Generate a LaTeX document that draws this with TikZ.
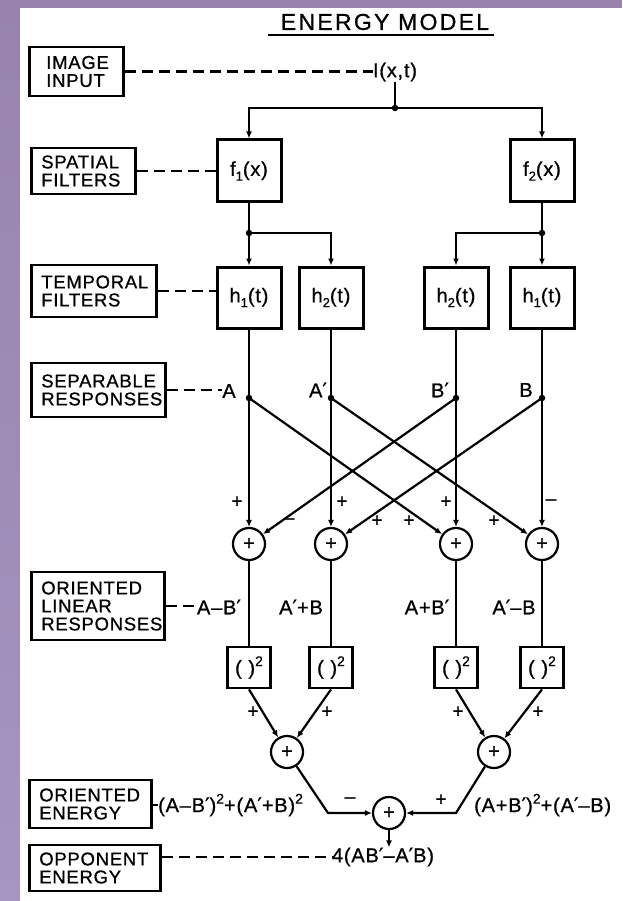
\documentclass[tikz,border=0pt]{standalone}
\usepackage{fontspec}
\setmainfont{Liberation Sans}[LetterSpace=4,FakeBold=0.8]
\newfontfamily\titlefont{Liberation Sans}[LetterSpace=10,FakeBold=0.8]
\newfontfamily\dvs{DejaVu Sans}[FakeBold=0.8]
\usetikzlibrary{arrows.meta}
\definecolor{purpA}{HTML}{9783AE}
\definecolor{purpB}{HTML}{C3B9D8}
\definecolor{purpC}{HTML}{A595C0}
\newcommand{\prm}{{\dvs ′}}
\newcommand{\sqr}{\raisebox{0.8ex}{\fontsize{14}{14}\selectfont 2}}
\newcommand{\lowsub}[1]{\raisebox{-0.45ex}{\fontsize{13}{13}\selectfont #1}}
\begin{document}
\begin{tikzpicture}[x=1pt,y=-1pt,
  lbox/.style={draw, line width=2.6pt, align=left, inner xsep=10pt, inner ysep=0pt, anchor=west,
               font=\fontsize{18.5}{18}\selectfont},
  fbox/.style={draw, line width=3pt, minimum width=64pt, minimum height=62pt, inner sep=0pt,
               font=\fontsize{20}{20}\selectfont},
  qbox/.style={draw, line width=2.8pt, minimum width=43pt, minimum height=41pt, inner sep=0pt,
               font=\fontsize{20}{20}\selectfont},
  adder/.style={circle, draw, line width=2.2pt, minimum size=32pt, inner sep=0pt,
               font=\fontsize{20}{20}\selectfont},
  conn/.style={line width=2.2pt},
  arr/.style={conn, -{Latex[length=7pt,width=6pt]}},
  dashc/.style={line width=2.2pt, dash pattern=on 11pt off 6pt},
  jdot/.style={circle, fill, inner sep=0pt, minimum size=6.5pt},
  lbl/.style={inner sep=0pt, font=\fontsize{20}{20}\selectfont},
  sgn/.style={inner sep=0pt, font=\fontsize{19}{19}\selectfont},
]
\useasboundingbox (0,0) rectangle (622,901);
% background
\fill[purpA] (0,0) rectangle (622,901);
\shade[top color=purpA, middle color=purpB, bottom color=purpC] (0,0) rectangle (20,901);
\fill[white] (20,8) rectangle (622,901);

% title
\node[inner sep=0pt, font=\titlefont\fontsize{23}{23}\selectfont] (title) at (385,22) {ENERGY MODEL};
\draw[line width=2.2pt] (268,35) -- (494,35);

% left label boxes
\node[lbox, inner xsep=17pt, minimum width=94pt, text width=60pt, minimum height=49pt] (bimg) at (28,71.5) {IMAGE\\INPUT};
\node[lbox, minimum width=104pt, text width=84pt, minimum height=46pt] (bsp) at (30,171) {SPATIAL\\FILTERS};
\node[lbox, minimum width=125pt, text width=105pt, minimum height=52pt] (btmp) at (30,291) {TEMPORAL\\FILTERS};
\node[lbox, minimum width=134pt, text width=114pt, minimum height=54pt] (bsep) at (30,390) {SEPARABLE\\RESPONSES};
\node[lbox, minimum width=133pt, text width=113pt, minimum height=68pt] (bol) at (30,606) {ORIENTED\\LINEAR\\RESPONSES};
\node[lbox, minimum width=122pt, text width=102pt, minimum height=48pt] (boe) at (28,804) {ORIENTED\\ENERGY};
\node[lbox, minimum width=131pt, text width=111pt, minimum height=46pt] (bop) at (28,868) {OPPONENT\\ENERGY};

% input
\node[lbl] (Ilab) at (395,72) {I(x,t)};
\coordinate (Ij) at (395,108);

% spatial filters
\node[fbox] (f1) at (249,171) {f\lowsub{1}(x)};
\node[fbox] (f2) at (542,171) {f\lowsub{2}(x)};

% temporal filters
\node[fbox, minimum height=61pt] (h1L) at (249,297.5) {h\lowsub{1}(t)};
\node[fbox, minimum height=61pt] (h2L) at (331,297.5) {h\lowsub{2}(t)};
\node[fbox, minimum height=61pt] (h2R) at (456,297.5) {h\lowsub{2}(t)};
\node[fbox, minimum height=61pt] (h1R) at (542,297.5) {h\lowsub{1}(t)};
\coordinate (j1) at (249,233);
\coordinate (j2) at (542,233);

% separable responses
\coordinate (dA) at (249,398);
\coordinate (dAp) at (331,398);
\coordinate (dBp) at (456,398);
\coordinate (dB) at (542,398);
\node[lbl] (lA) at (229,391) {A};
\node[lbl] (lAp) at (318,390) {A\prm};
\node[lbl] (lBp) at (440,390) {B\prm};
\node[lbl] (lB) at (526,390) {B};

% adders
\node[adder] (s1) at (249,544) {+};
\node[adder] (s2) at (331,544) {+};
\node[adder] (s3) at (456,544) {+};
\node[adder] (s4) at (542,544) {+};

% oriented linear responses
\node[lbl] (olA) at (219,607) {A–B\prm};
\node[lbl] (olB) at (301,607) {A\prm+B};
\node[lbl] (olC) at (427,607) {A+B\prm};
\node[lbl] (olD) at (514,607) {A\prm–B};

% squaring
\node[qbox] (q1) at (249,667.5) {(\,\,)\sqr};
\node[qbox] (q2) at (331,667.5) {(\,\,)\sqr};
\node[qbox] (q3) at (456,667.5) {(\,\,)\sqr};
\node[qbox] (q4) at (542,667.5) {(\,\,)\sqr};

% energy sums
\node[adder] (t1) at (287,752) {+};
\node[adder] (t2) at (494,752) {+};
\node[adder] (fin) at (389,813) {+};
\coordinate (b1) at (328,813);
\coordinate (b2) at (456,813);

\node[lbl, anchor=west] (oeL) at (158,805) {(A–B\prm)\sqr+(A\prm+B)\sqr};
\node[lbl, anchor=west] (oeR) at (474,805) {(A+B\prm)\sqr+(A\prm–B)};
\node[lbl] (opp) at (383,857) {4(AB\prm–A\prm B)};

% dashed leaders
\draw[dashc] (bimg.east) -- (bimg.east -| Ilab.west);
\draw[dashc] (bsp.east) -- (bsp.east -| f1.west);
\draw[dashc] (btmp.east) -- (btmp.east -| h1L.west);
\draw[dashc] (bsep.east) -- (bsep.east -| lA.west);
\draw[dashc] (bol.east) -- (bol.east -| olA.west);
\draw[conn] (boe.east |- oeL.west) -- (oeL.west);
\draw[dashc] (bop.east |- opp.west) -- (opp.west);

% connectors
\draw[conn] (Ilab.south) -- (Ij);
\draw[arr] (Ij) -| (f1.north);
\draw[arr] (Ij) -| (f2.north);
\draw[conn] (f1.south) -- (j1);
\draw[arr] (j1) -- (h1L.north);
\draw[arr] (j1) -| (h2L.north);
\draw[conn] (f2.south) -- (j2);
\draw[arr] (j2) -- (h1R.north);
\draw[arr] (j2) -| (h2R.north);

\draw[arr] (h1L.south) -- (s1.north);
\draw[arr] (h2L.south) -- (s2.north);
\draw[arr] (h2R.south) -- (s3.north);
\draw[arr] (h1R.south) -- (s4.north);
\draw[arr] (dA) -- (s3);
\draw[arr] (dAp) -- (s4);
\draw[arr] (dBp) -- (s1);
\draw[arr] (dB) -- (s2);

\draw[conn] (s1) -- (q1);
\draw[conn] (s2) -- (q2);
\draw[conn] (s3) -- (q3);
\draw[conn] (s4) -- (q4);

\draw[arr] (q1.south) -- (t1);
\draw[arr] (q2.south) -- (t1);
\draw[arr] (q3.south) -- (t2);
\draw[arr] (q4.south) -- (t2);

\draw[arr] (t1) -- (b1) -- (fin);
\draw[arr] (t2) -- (b2) -- (fin);
\draw[arr] (fin) -- (fin.south |- opp.north);

% junction dots
\foreach \p in {Ij,j1,j2,dA,dAp,dBp,dB} \node[jdot] at (\p) {};

% signs
\node[sgn] at (237,502) {+};
\node[sgn] at (289,521) {–};
\node[sgn] at (342,502) {+};
\node[sgn] at (377,521) {+};
\node[sgn] at (409,521) {+};
\node[sgn] at (446,502) {+};
\node[sgn] at (494,521) {+};
\node[sgn] at (551,502) {–};
\node[sgn] at (253,712) {+};
\node[sgn] at (327,712) {+};
\node[sgn] at (458,712) {+};
\node[sgn] at (538,712) {+};
\node[sgn] at (350,800) {–};
\node[sgn] at (441,800) {+};
\end{tikzpicture}
\end{document}
